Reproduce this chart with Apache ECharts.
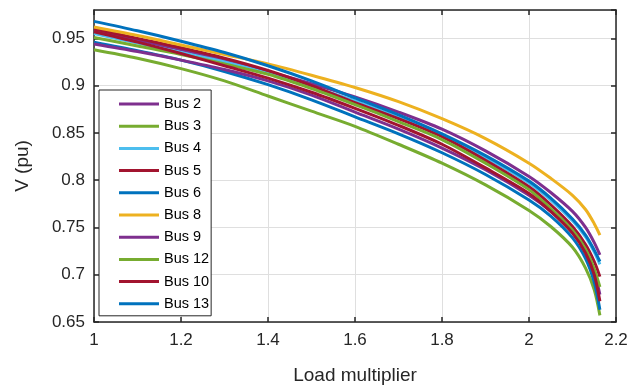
<!DOCTYPE html>
<html>
<head>
<meta charset="utf-8">
<script src="https://cdn.jsdelivr.net/npm/echarts@6/dist/echarts.min.js"></script>
<style>html,body{margin:0;padding:0;background:#fff;}#c{width:644px;height:390px;}</style>
</head>
<body>
<div id="c"></div>
<script>
const loadMult = [1.0, 1.1, 1.2, 1.3, 1.4, 1.5, 1.6, 1.7, 1.8, 1.9, 2.0, 2.05, 2.1, 2.13, 2.15, 2.163];
const bus2  = [0.958, 0.948, 0.938, 0.927, 0.915, 0.902, 0.888, 0.872, 0.854, 0.831, 0.804, 0.787, 0.767, 0.750, 0.734, 0.721];
const bus3  = [0.938, 0.929, 0.918, 0.905, 0.889, 0.873, 0.857, 0.838, 0.818, 0.795, 0.768, 0.751, 0.729, 0.707, 0.684, 0.657];
const bus4  = [0.955, 0.945, 0.935, 0.925, 0.913, 0.899, 0.884, 0.866, 0.847, 0.824, 0.797, 0.779, 0.757, 0.740, 0.724, 0.711];
const bus5  = [0.960, 0.950, 0.940, 0.929, 0.916, 0.900, 0.882, 0.865, 0.846, 0.821, 0.793, 0.774, 0.751, 0.732, 0.714, 0.698];
const bus6  = [0.946, 0.937, 0.927, 0.915, 0.901, 0.885, 0.867, 0.849, 0.829, 0.806, 0.779, 0.762, 0.739, 0.717, 0.692, 0.663];
const bus8  = [0.962, 0.953, 0.943, 0.933, 0.923, 0.911, 0.898, 0.883, 0.865, 0.844, 0.818, 0.802, 0.784, 0.769, 0.754, 0.742];
const bus9  = [0.944, 0.936, 0.927, 0.917, 0.905, 0.890, 0.872, 0.854, 0.834, 0.811, 0.784, 0.767, 0.745, 0.725, 0.703, 0.679];
const bus12 = [0.951, 0.942, 0.933, 0.923, 0.912, 0.897, 0.880, 0.862, 0.843, 0.818, 0.790, 0.770, 0.747, 0.727, 0.706, 0.687];
const bus10 = [0.957, 0.946, 0.934, 0.921, 0.908, 0.893, 0.876, 0.858, 0.838, 0.813, 0.786, 0.767, 0.744, 0.723, 0.700, 0.672];
const bus13 = [0.968, 0.958, 0.947, 0.935, 0.921, 0.905, 0.887, 0.869, 0.849, 0.826, 0.799, 0.781, 0.759, 0.742, 0.726, 0.714];

const seriesNames = ['Bus 2','Bus 3','Bus 4','Bus 5','Bus 6','Bus 8','Bus 9','Bus 12','Bus 10','Bus 13'];
const seriesData = [bus2, bus3, bus4, bus5, bus6, bus8, bus9, bus12, bus10, bus13];
const colors = ['#7E2F8E','#77AC30','#4DBEEE','#A2142F','#0072BD','#EDB120','#7E2F8E','#77AC30','#A2142F','#0072BD'];

const FONT = 'Liberation Sans, Arial, sans-serif';
const chart = echarts.init(document.getElementById('c'), null, {renderer:'canvas'});

const series = seriesNames.map((n, i) => ({
  name: n,
  type: 'line',
  data: loadMult.map((x, j) => [x, seriesData[i][j]]),
  smooth: 0.3,
  symbol: 'none',
  showSymbol: false,
  lineStyle: {width: 3, color: colors[i]},
  itemStyle: {color: colors[i]},
  z: 2 + i
}));

const axisCommon = {
  axisLine: {show: true, onZero: false, lineStyle: {color: '#262626', width: 1.5}},
  axisTick: {show: true, inside: true, length: 5, lineStyle: {color: '#262626', width: 1.5}},
};

chart.setOption({
  animation: false,
  backgroundColor: '#fff',
  textStyle: {fontFamily: FONT},
  grid: {left: 94, right: 28, top: 10, bottom: 68, containLabel: false},
  legend: {
    orient: 'vertical',
    left: 99, top: 90,
    padding: [6, 2, 4, 20],
    itemWidth: 40, itemHeight: 16, itemGap: 6.2,
    backgroundColor: '#fff',
    borderColor: '#262626', borderWidth: 1,
    textStyle: {fontSize: 14.5, color: '#000', fontFamily: FONT, lineHeight: 16},
    data: seriesNames.map(n => ({name: n, icon: 'path://M0,6.5 L40,6.5 L40,9.5 L0,9.5 Z'}))
  },
  xAxis: [{
    type: 'value', min: 1, max: 2.2, interval: 0.2, position: 'bottom',
    name: 'Load multiplier', nameLocation: 'middle', nameGap: 44,
    nameTextStyle: {fontSize: 19, color: '#262626', fontFamily: FONT},
    axisLabel: {fontSize: 17, color: '#262626', margin: 10, fontFamily: FONT},
    splitLine: {show: true, lineStyle: {color: '#dfdfdf', width: 1}},
    ...axisCommon
  }, {
    type: 'value', min: 1, max: 2.2, interval: 0.2, position: 'top',
    axisLabel: {show: false}, splitLine: {show: false},
    ...axisCommon
  }],
  yAxis: [{
    type: 'value', min: 0.65, max: 0.98, interval: 0.05, position: 'left',
    name: 'V (pu)', nameLocation: 'middle', nameGap: 62, nameRotate: 90,
    nameTextStyle: {fontSize: 19, color: '#262626', fontFamily: FONT},
    axisLabel: {fontSize: 17, color: '#262626', margin: 9, showMaxLabel: false, fontFamily: FONT},
    splitLine: {show: true, lineStyle: {color: '#dfdfdf', width: 1}},
    ...axisCommon
  }, {
    type: 'value', min: 0.65, max: 0.98, interval: 0.05, position: 'right',
    axisLabel: {show: false}, splitLine: {show: false},
    ...axisCommon
  }],
  series: series
});
</script>
</body>
</html>
